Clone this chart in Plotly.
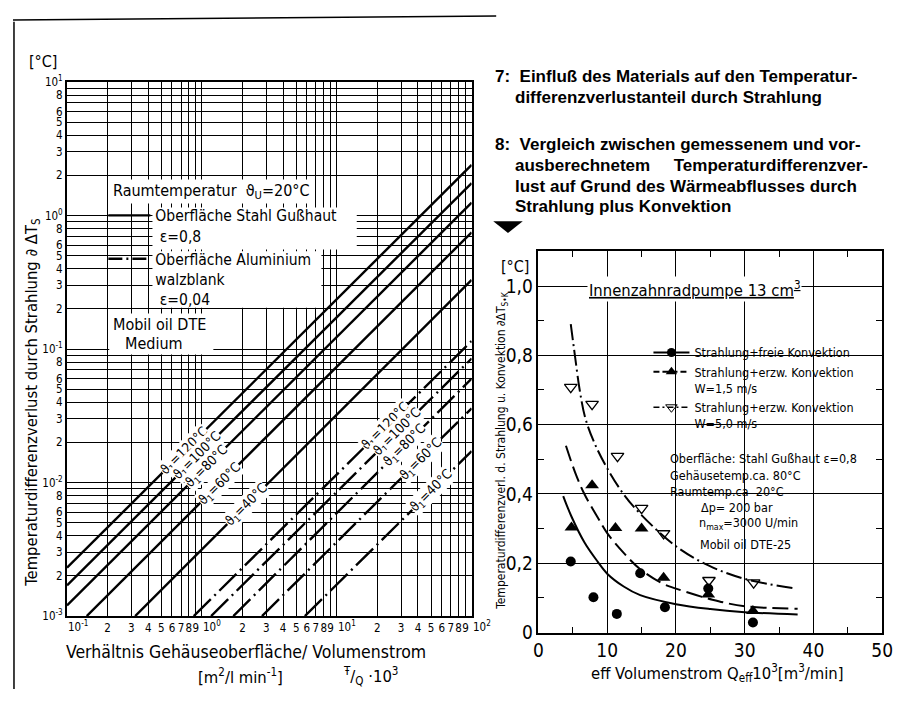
import plotly.graph_objects as go
import math

# ---------------- Left chart data (log-log straight lines) -------------
temps = ["120", "100", "80", "60", "40"]
stahl_x0 = [0.1, 0.1, 0.1, 0.14, 0.32]
stahl_y0 = [0.0023, 0.0017, 0.0012, 0.001, 0.001]
stahl_x1 = [100, 100, 100, 100, 100]
stahl_y1 = [2.4, 1.75, 1.25, 0.75, 0.33]
stahl_label_x = [0.74, 0.92, 1.09, 1.35, 2.13]

alu_x0 = [0.87, 1.17, 1.71, 2.79, 5.8]
alu_y0 = [0.001, 0.001, 0.001, 0.001, 0.001]
alu_x1 = [100, 100, 100, 100, 100]
alu_y1 = [0.115, 0.085, 0.06, 0.036, 0.0172]
alu_label_x = [23, 28, 32, 42, 50]

NB = "\u00a0"
x_tickvals = [0.1, 0.2, 0.3, 0.4, 0.5, 0.6, 0.7, 0.8, 0.9, 1, 2, 3, 4, 5, 6, 7, 8, 9, 10,
              20, 30, 40, 50, 60, 70, 80, 90, 100]
x_ticktext = ["", "2", "3", "4", "5", "6", "7", "8", "9", "",
              "2", "3", "4", "5", "6", "7", "8", "9", "",
              "2", "3", "4", "5", "6", "7", "8", "9", ""]
x_decades = [0.1, 1, 10, 100]
x_decade_text = ["10<sup>-1</sup>", "10<sup>0</sup>", "10<sup>1</sup>", "10<sup>2</sup>"]
y_tickvals = [0.001, 0.002, 0.003, 0.004, 0.005, 0.006, 0.007, 0.008, 0.009,
              0.01, 0.02, 0.03, 0.04, 0.05, 0.06, 0.07, 0.08, 0.09,
              0.1, 0.2, 0.3, 0.4, 0.5, 0.6, 0.7, 0.8, 0.9,
              1, 2, 3, 4, 5, 6, 7, 8, 9, 10]
y_ticktext = ["10<sup>-3</sup>", "2", "3", "4", "5", "6", "", "8", "",
              "10<sup>-2</sup>", "2", "3", "4", "5", "6", "", "8", "",
              "10<sup>-1</sup>", "2", "3", "4", "5", "6", "", "8", "",
              "10<sup>0</sup>", "2", "3", "4", "5", "6", "", "8", "",
              "10<sup>1</sup>"]

# ---------------- Right chart data ----------------
free_x = [3.6, 4.8, 6.7, 8.6, 10.0, 12.4, 14.8, 20.0, 25.0, 30.0, 37.7]
free_y = [0.394, 0.335, 0.26, 0.205, 0.17, 0.133, 0.108, 0.082, 0.068, 0.059, 0.052]
w15_x = [4.0, 5.3, 6.7, 8.6, 10.0, 12.4, 14.8, 18.1, 20.0, 25.3, 30.0, 37.7]
w15_y = [0.539, 0.464, 0.399, 0.333, 0.287, 0.23, 0.183, 0.141, 0.127, 0.095, 0.076, 0.069]
w50_x = [4.7, 5.3, 6.0, 6.8, 8.1, 10.0, 12.4, 14.8, 20.0, 24.8, 30.0, 37.4]
w50_y = [0.89, 0.80, 0.70, 0.62, 0.549, 0.474, 0.399, 0.343, 0.249, 0.193, 0.155, 0.127]

circ_x = [4.7, 8.0, 11.4, 14.8, 18.4, 24.7, 31.2]
circ_y = [0.205, 0.102, 0.054, 0.171, 0.073, 0.127, 0.029]
tri_x = [4.8, 7.8, 11.2, 15.0, 18.2, 24.7, 31.2]
tri_y = [0.303, 0.425, 0.302, 0.300, 0.158, 0.110, 0.062]
tdn_x = [4.7, 7.8, 11.5, 15.0, 18.2, 24.8, 31.3]
tdn_y = [0.708, 0.659, 0.509, 0.359, 0.286, 0.151, 0.144]

y2_tickvals = [0, 0.2, 0.4, 0.6, 0.8, 1.0]
y2_ticktext = ["0", "0,2", "0,4", "0,6", "0,8", "1,0"]

FONT = "DejaVu Sans Condensed, DejaVu Sans, sans-serif"
BOLD = "Liberation Sans, Arial, sans-serif"
OFF = 8                     # default page margin of the html body
W, H = 912 - 2 * OFF, 708 - 2 * OFF


def px(x):
    return (x - OFF) / W


def py(y):
    return 1 - (y - OFF) / H


fig = go.Figure()

DASHDOT = "24px,5px,2px,5px"

for i in range(len(temps)):
    fig.add_trace(go.Scatter(x=[stahl_x0[i], stahl_x1[i]], y=[stahl_y0[i], stahl_y1[i]],
                             mode="lines", line=dict(color="black", width=2.4),
                             showlegend=False, hoverinfo="skip", xaxis="x", yaxis="y"))
    fig.add_trace(go.Scatter(x=[alu_x0[i], alu_x1[i]], y=[alu_y0[i], alu_y1[i]],
                             mode="lines", line=dict(color="black", width=2.4, dash=DASHDOT),
                             showlegend=False, hoverinfo="skip", xaxis="x", yaxis="y"))

# legend samples (left)
fig.add_trace(go.Scatter(x=[None], y=[None], mode="lines", line=dict(color="black", width=2.4),
                         name="Oberfläche Stahl Gußhaut<br>" + NB + "ε=0,8", legend="legend",
                         xaxis="x", yaxis="y"))
fig.add_trace(go.Scatter(x=[None], y=[None], mode="lines",
                         line=dict(color="black", width=2.4, dash="14px,4px,2px,4px"),
                         name="Oberfläche Aluminium<br>walzblank<br>" + NB + "ε=0,04", legend="legend",
                         xaxis="x", yaxis="y"))


def on_line(x, x0, y0, x1, y1):
    s = math.log10(y1 / y0) / math.log10(x1 / x0)
    return math.log10(y0) + s * (math.log10(x) - math.log10(x0))


annotations = []
for i, t in enumerate(temps):
    for lx, xs0, ys0, xs1, ys1 in [(stahl_label_x[i], stahl_x0[i], stahl_y0[i], stahl_x1[i], stahl_y1[i]),
                                    (alu_label_x[i], alu_x0[i], alu_y0[i], alu_x1[i], alu_y1[i])]:
        annotations.append(dict(x=math.log10(lx), y=on_line(lx, xs0, ys0, xs1, ys1), xref="x", yref="y",
                                text="ϑ<sub>1</sub>=" + t + "°C", textangle=-45, showarrow=False,
                                bgcolor="white", font=dict(family=FONT, size=13.5, color="black"),
                                borderpad=0))

# decade labels of the x axis (written just right of their grid line, as in the original)
for dv, dt in zip(x_decades, x_decade_text):
    annotations.append(dict(x=math.log10(dv), y=1 - (636 - OFF) / H, xref="x", yref="paper",
                            text=dt, showarrow=False, xanchor="left",
                            xshift=-1, yanchor="middle",
                            font=dict(family=FONT, size=11.5, color="black")))

# ---------------- Right chart traces ----------------
fig.add_trace(go.Scatter(x=free_x, y=free_y, mode="lines", line=dict(color="black", width=2, shape="spline"),
                         showlegend=False, hoverinfo="skip", xaxis="x2", yaxis="y2"))
fig.add_trace(go.Scatter(x=w15_x, y=w15_y, mode="lines",
                         line=dict(color="black", width=2, shape="spline", dash="16px,6px"),
                         showlegend=False, hoverinfo="skip", xaxis="x2", yaxis="y2"))
fig.add_trace(go.Scatter(x=w50_x, y=w50_y, mode="lines",
                         line=dict(color="black", width=2, shape="spline", dash="16px,4px,2px,4px"),
                         showlegend=False, hoverinfo="skip", xaxis="x2", yaxis="y2"))
fig.add_trace(go.Scatter(x=circ_x, y=circ_y, mode="markers",
                         marker=dict(symbol="circle", size=10, color="black"),
                         showlegend=False, xaxis="x2", yaxis="y2"))
fig.add_trace(go.Scatter(x=tri_x, y=tri_y, mode="markers",
                         marker=dict(symbol="triangle-up", size=12, color="black"),
                         showlegend=False, xaxis="x2", yaxis="y2"))
fig.add_trace(go.Scatter(x=tdn_x, y=tdn_y, mode="markers",
                         marker=dict(symbol="triangle-down-open", size=11, color="black",
                                     line=dict(width=1.3, color="black")),
                         showlegend=False, xaxis="x2", yaxis="y2"))

fig.add_trace(go.Scatter(x=[None], y=[None], mode="lines+markers",
                         line=dict(color="black", width=2),
                         marker=dict(symbol="circle", size=9, color="black"),
                         name="Strahlung+freie Konvektion", legend="legend2", xaxis="x2", yaxis="y2"))
fig.add_trace(go.Scatter(x=[None], y=[None], mode="lines+markers",
                         line=dict(color="black", width=2, dash="6px,3px"),
                         marker=dict(symbol="triangle-up", size=10, color="black"),
                         name="Strahlung+erzw. Konvektion<br>W=1,5 m/s", legend="legend2",
                         xaxis="x2", yaxis="y2"))
fig.add_trace(go.Scatter(x=[None], y=[None], mode="lines+markers",
                         line=dict(color="black", width=1.5, dash="6px,3px,2px,3px"),
                         marker=dict(symbol="triangle-down-open", size=10, color="black"),
                         name="Strahlung+erzw. Konvektion<br>W=5,0 m/s", legend="legend2",
                         xaxis="x2", yaxis="y2"))


def txt(x, y, text, size, family=FONT, xanchor="left", angle=0, bg=None, color="black"):
    d = dict(x=px(x), y=py(y), xref="paper", yref="paper", text=text, showarrow=False,
             xanchor=xanchor, yanchor="middle", textangle=angle,
             font=dict(family=family, size=size, color=color))
    if bg:
        d["bgcolor"] = bg
    annotations.append(d)


# left chart texts
txt(22, 55, "[°C]", 16)
txt(108, 188, "Raumtemperatur  ϑ<sub>U</sub>=20°C", 16, bg="white")
txt(108, 325, "Mobil oil DTE", 16)
txt(120, 345, "Medium", 16)
txt(27, 405, "Temperaturdifferenzverlust durch Strahlung ∂ ΔT<sub>S</sub>", 16.5,
    xanchor="center", angle=-90)
txt(245, 662, "Verhältnis Gehäuseoberfläche/ Volumenstrom", 17.5, xanchor="center")
txt(240, 687, "[m<sup>2</sup>/l min<sup>-1</sup>]", 16.5, xanchor="center")
txt(372, 687, "<sup>Ŧ</sup>/<sub>Q</sub> ·10<sup>3</sup>", 16.5, xanchor="center")

# headings
HS = 17
txt(497, 70, "<b>7:  Einfluß des Materials auf den Temperatur-</b>", HS, family=BOLD)
txt(517, 92, "<b>differenzverlustanteil durch Strahlung</b>", HS, family=BOLD)
txt(497, 140, "<b>8:  Vergleich zwischen gemessenem und vor-</b>", HS, family=BOLD)
txt(517, 162, "<b>ausberechnetem     Temperaturdifferenzver-</b>", HS, family=BOLD)
txt(517, 183, "<b>lust auf Grund des Wärmeabflusses durch</b>", HS, family=BOLD)
txt(517, 204, "<b>Strahlung plus Konvektion</b>", HS, family=BOLD)

# right chart texts
txt(503, 266, "[°C]", 16)
txt(506, 455, "Temperaturdifferenzverl. d. Strahlung u. Konvektion ∂ΔT<sub>S•K</sub>", 12,
    xanchor="center", angle=-90)
txt(725, 684, "eff Volumenstrom Q<sub>eff</sub>10<sup>3</sup>[m<sup>3</sup>/min]", 16.5, xanchor="center")
txt(702, 289, "<u>Innenzahnradpumpe 13 cm<sup>3</sup></u>", 16.5, xanchor="center", bg="white")
txt(675, 463, "Oberfläche: Stahl Gußhaut ε=0,8", 12.5)
txt(675, 480, "Gehäusetemp.ca. 80°C", 12.5)
txt(675, 497, "Raumtemp.ca  20°C", 12.5)
txt(706, 513, "Δp= 200 bar", 12.5)
txt(704, 530, "n<sub>max</sub>=3000 U/min", 12.5)
txt(705, 551, "Mobil oil DTE-25", 12.5)


def white_rect(x0, y0, x1, y1):
    return dict(type="rect", xref="paper", yref="paper", x0=px(x0), x1=px(x1), y0=py(y1), y1=py(y0),
                fillcolor="white", line=dict(width=0), layer="above")


shapes = [
    white_rect(150, 205, 358, 248),
    white_rect(150, 250, 322, 308),
    white_rect(106, 314, 212, 356),
    dict(type="path", xref="paper", yref="paper",
         path=f"M {px(497)} {py(219)} L {px(527)} {py(219)} L {px(512)} {py(231)} Z",
         fillcolor="black", line=dict(width=0)),
    dict(type="line", xref="paper", yref="paper", x0=0, y0=py(12), x1=px(500), y1=py(8),
         line=dict(color="black", width=1.5)),
    dict(type="line", xref="paper", yref="paper", x0=px(9), y0=py(14), x1=px(9), y1=0,
         line=dict(color="black", width=1.5)),
]

fig.update_layout(
    width=W, height=H, margin=dict(l=0, r=0, t=0, b=0),
    paper_bgcolor="white", plot_bgcolor="white",
    font=dict(family=FONT, color="black"),
    xaxis=dict(type="log", range=[-1, 2], domain=[px(63), px(475)], anchor="y",
               tickvals=x_tickvals, ticktext=x_ticktext, tickangle=0,
               tickfont=dict(size=11.5, family=FONT), ticks="", showgrid=True, gridcolor="black",
               gridwidth=1, showline=True, linecolor="black", linewidth=2, mirror=True,
               zeroline=False),
    yaxis=dict(type="log", range=[-3, 1], domain=[py(625), py(76)], anchor="x",
               tickvals=y_tickvals, ticktext=y_ticktext,
               tickfont=dict(size=11.5, family=FONT), ticks="", showgrid=True, gridcolor="black",
               gridwidth=1, showline=True, linecolor="black", linewidth=2, mirror=True,
               zeroline=False),
    xaxis2=dict(range=[0, 50], domain=[px(543), px(893)], anchor="y2",
                tickvals=[0, 10, 20, 30, 40, 50], ticks="inside", ticklen=6, tickcolor="black",
                minor=dict(dtick=5, tick0=0, ticks="inside", ticklen=6, tickcolor="black", showgrid=False),
                tickfont=dict(size=19, family=FONT), showgrid=True, gridcolor="black", gridwidth=1,
                showline=True, linecolor="black", linewidth=1.5, mirror="ticks", zeroline=False),
    yaxis2=dict(range=[0, 1.1], domain=[py(642), py(250)], anchor="x2",
                tickvals=y2_tickvals, ticktext=y2_ticktext, ticks="inside", ticklen=6, tickcolor="black",
                minor=dict(dtick=0.1, tick0=0, ticks="inside", ticklen=6, tickcolor="black", showgrid=False),
                tickfont=dict(size=19, family=FONT), showgrid=True, gridcolor="black", gridwidth=1,
                showline=True, linecolor="black", linewidth=1.5, mirror="ticks", zeroline=False),
    legend=dict(x=px(100), y=py(196), xanchor="left", yanchor="top", bgcolor="rgba(0,0,0,0)",
                font=dict(family=FONT, size=15.5), valign="top", tracegroupgap=8,
                itemwidth=42, borderwidth=0),
    legend2=dict(x=px(655), y=py(339), xanchor="left", yanchor="top", bgcolor="rgba(0,0,0,0)",
                 font=dict(family=FONT, size=12.5), valign="top", tracegroupgap=2, itemwidth=36),
    annotations=annotations,
    shapes=shapes,
)

fig.write_html("out.html", config={"displayModeBar": False})
